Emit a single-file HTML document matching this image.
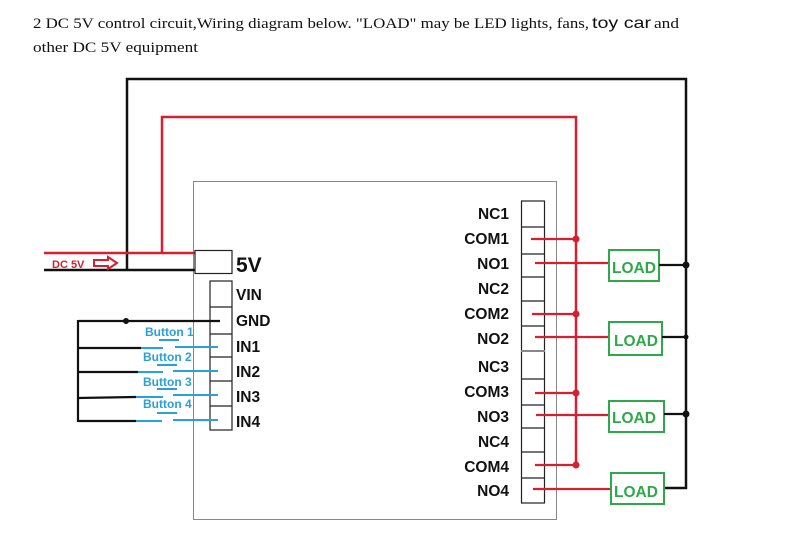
<!DOCTYPE html>
<html><head><meta charset="utf-8"><style>
html,body{margin:0;padding:0;background:#fff;width:788px;height:554px;overflow:hidden}
svg{display:block}
.lab{font-family:"Liberation Sans",Arial,sans-serif;font-weight:bold;font-size:15.5px;fill:#111}
.btn{font-family:"Liberation Sans",Arial,sans-serif;font-weight:bold;font-size:12px;fill:#2aa0d8}
.load{font-family:"Liberation Sans",Arial,sans-serif;font-weight:bold;font-size:15.5px;fill:#2fa84a}
</style></head><body>
<svg width="788" height="554" viewBox="0 0 788 554" xmlns="http://www.w3.org/2000/svg">
<text x="33" y="28" font-family="Liberation Serif,serif" font-size="15" fill="#111" textLength="556" lengthAdjust="spacingAndGlyphs">2 DC 5V control circuit,Wiring diagram below. "LOAD" may be LED lights, fans,</text>
<text x="592" y="28" font-family="Liberation Sans,sans-serif" font-size="16" fill="#111" textLength="59" lengthAdjust="spacingAndGlyphs">toy car</text>
<text x="654" y="28" font-family="Liberation Serif,serif" font-size="15" fill="#111" textLength="25" lengthAdjust="spacingAndGlyphs">and</text>
<text x="33" y="52" font-family="Liberation Serif,serif" font-size="15" fill="#111" textLength="165" lengthAdjust="spacingAndGlyphs">other DC 5V equipment</text>

<rect x="193.5" y="181.5" width="363" height="338" fill="none" stroke="#888" stroke-width="1"/>

<polyline points="44,270 197,270" stroke="#111" stroke-width="2.5" fill="none"/>
<polyline points="127,270 127,79 686,79 686,488 663,488" stroke="#111" stroke-width="2.5" fill="none"/>
<polyline points="44,253 197,253" stroke="#d42030" stroke-width="2.5" fill="none"/>
<polyline points="162,253 162,117 576,117 576,465" stroke="#d42030" stroke-width="2.5" fill="none"/>

<text x="52" y="268" font-family="Liberation Sans,sans-serif" font-weight="bold" font-size="11" fill="#d42030">DC 5V</text>
<path d="M94 260 h14 v-3 l9 6 l-9 6 v-3 h-14 z" fill="none" stroke="#d42030" stroke-width="2"/>

<rect x="195" y="250.5" width="37" height="23" fill="#fff" stroke="#222" stroke-width="1.2"/>
<text x="236" y="272" font-family="Liberation Sans,sans-serif" font-weight="bold" font-size="21" fill="#111">5V</text>

<rect x="210" y="281" width="22" height="149" fill="#fff" stroke="#222" stroke-width="1.2"/>
<g stroke="#222" stroke-width="1.2">
<line x1="210" y1="307" x2="232" y2="307"/><line x1="210" y1="334" x2="232" y2="334"/>
<line x1="210" y1="357" x2="232" y2="357"/><line x1="210" y1="381" x2="232" y2="381"/>
<line x1="210" y1="406" x2="232" y2="406"/></g>
<text class="lab" x="236" y="300">VIN</text>
<text class="lab" x="236" y="326">GND</text>
<text class="lab" x="236" y="352">IN1</text>
<text class="lab" x="236" y="377">IN2</text>
<text class="lab" x="236" y="402">IN3</text>
<text class="lab" x="236" y="427">IN4</text>

<g stroke="#111" stroke-width="2.2" fill="none">
<line x1="78" y1="320" x2="78" y2="422"/>
<line x1="78" y1="321" x2="220" y2="321"/>
<line x1="77" y1="348" x2="141" y2="348"/>
<line x1="78" y1="372" x2="138" y2="372"/>
<line x1="78" y1="398" x2="136" y2="397"/>
<line x1="78" y1="421" x2="136" y2="421"/>
</g>
<circle cx="126" cy="321" r="3" fill="#111"/>
<g stroke="#2aa0d8" stroke-width="2" fill="none">
<line x1="141" y1="348" x2="163" y2="348"/><line x1="175" y1="347" x2="218" y2="347"/><line x1="159" y1="340" x2="179" y2="340"/>
<line x1="138" y1="372" x2="163" y2="372"/><line x1="173" y1="371" x2="218" y2="371"/><line x1="157" y1="365" x2="177" y2="365"/>
<line x1="136" y1="397" x2="163" y2="397"/><line x1="173" y1="395" x2="218" y2="395"/><line x1="157" y1="389" x2="177" y2="389"/>
<line x1="136" y1="421" x2="162" y2="421"/><line x1="173" y1="420" x2="218" y2="420"/><line x1="157" y1="413" x2="177" y2="413"/>
</g>
<text class="btn" x="145" y="336">Button 1</text>
<text class="btn" x="143" y="361">Button 2</text>
<text class="btn" x="143" y="386">Button 3</text>
<text class="btn" x="143" y="408">Button 4</text>

<rect x="521.5" y="201" width="23" height="302" fill="#fff" stroke="#222" stroke-width="1.2"/>
<g stroke="#222" stroke-width="1.2">
<line x1="521" y1="227" x2="545" y2="227"/><line x1="521" y1="254" x2="545" y2="254"/>
<line x1="521" y1="277" x2="545" y2="277"/><line x1="521" y1="301" x2="545" y2="301"/>
<line x1="521" y1="326" x2="545" y2="326"/><line x1="521" y1="351" x2="545" y2="351" stroke="#888" stroke-width="2"/>
<line x1="521" y1="379" x2="545" y2="379"/><line x1="521" y1="405" x2="545" y2="405"/>
<line x1="521" y1="428" x2="545" y2="428"/><line x1="521" y1="452" x2="545" y2="452"/>
<line x1="521" y1="478" x2="545" y2="478"/></g>
<g class="lab" text-anchor="end">
<text x="509" y="219">NC1</text><text x="509" y="244">COM1</text><text x="509" y="269">NO1</text>
<text x="509" y="294">NC2</text><text x="509" y="319">COM2</text><text x="509" y="344">NO2</text>
<text x="509" y="372">NC3</text><text x="509" y="397">COM3</text><text x="509" y="422">NO3</text>
<text x="509" y="447">NC4</text><text x="509" y="472">COM4</text><text x="509" y="496">NO4</text>
</g>

<g stroke="#d42030" stroke-width="2.2">
<line x1="531" y1="239" x2="576" y2="239"/><line x1="532" y1="314" x2="576" y2="314"/>
<line x1="535" y1="393" x2="576" y2="393"/><line x1="535" y1="465" x2="576" y2="465"/>
<line x1="535" y1="263" x2="609" y2="263"/><line x1="535" y1="337" x2="609" y2="337"/>
<line x1="536" y1="415" x2="609" y2="415"/><line x1="533" y1="489" x2="611" y2="489"/>
</g>
<g fill="#d42030"><circle cx="576" cy="239" r="3.5"/><circle cx="576" cy="314" r="3.5"/><circle cx="576" cy="393" r="3.5"/><circle cx="576" cy="465" r="3.5"/></g>

<g fill="#fff" stroke="#2fa84a" stroke-width="2">
<rect x="609" y="250" width="50" height="31"/><rect x="609" y="322" width="53" height="33"/>
<rect x="609" y="401" width="55" height="31"/><rect x="611" y="473" width="53" height="31"/>
</g>
<text class="load" x="612" y="273">LOAD</text><text class="load" x="614" y="346">LOAD</text>
<text class="load" x="612" y="423">LOAD</text><text class="load" x="614" y="497">LOAD</text>
<g stroke="#111" stroke-width="2.2">
<line x1="659" y1="265" x2="686" y2="265"/><line x1="662" y1="337" x2="686" y2="337"/>
<line x1="664" y1="414" x2="686" y2="414"/>
</g>
<g fill="#111"><circle cx="686" cy="265" r="3.5"/><circle cx="686" cy="337" r="2.5"/><circle cx="686" cy="414" r="3.5"/></g>
</svg>
</body></html>
